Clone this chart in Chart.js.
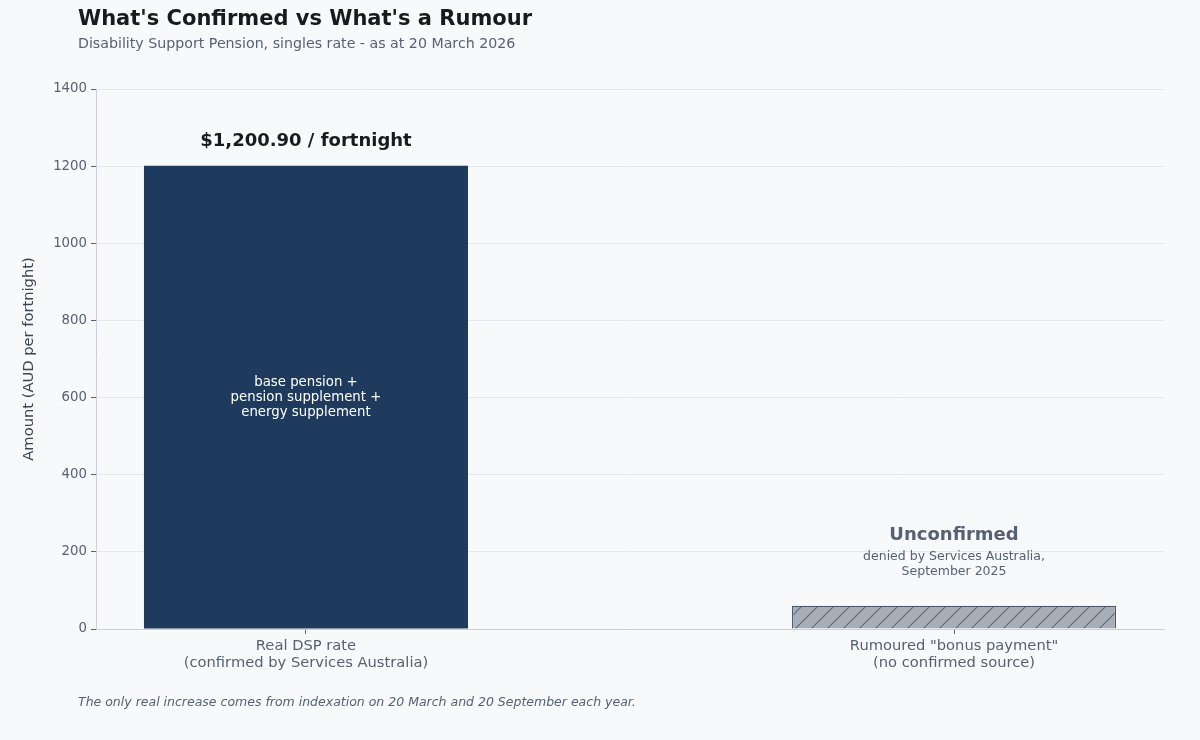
<!DOCTYPE html>
<html>
<head>
<meta charset="utf-8">
<script src="https://cdn.jsdelivr.net/npm/chart.js@4"></script>
<style>
  html, body { margin: 0; padding: 0; background: #f7f9fb; }
  #wrap { width: 1200px; height: 740px; position: relative; }
</style>
</head>
<body>
<div id="wrap"><canvas id="chart" width="1200" height="740"></canvas></div>
<script>
// Chart data
const categories = [
    ['Real DSP rate', '(confirmed by Services Australia)'],
    ['Rumoured "bonus payment"', '(no confirmed source)']
];
const amounts = [1200.9, 60];
const yTicks = [0, 200, 400, 600, 800, 1000, 1200, 1400];

const FONT = '"DejaVu Sans", sans-serif';
const MUTED = '#566274';

// diagonal hatch for the rumour bar
function makeHatch() {
    const c = document.createElement('canvas');
    c.width = 16;
    c.height = 16;
    const g = c.getContext('2d');
    g.fillStyle = '#a7aeb8';
    g.fillRect(0, 0, 16, 16);
    g.strokeStyle = '#5d6778';
    g.lineWidth = 1.1;
    g.beginPath();
    g.moveTo(0, 16); g.lineTo(16, 0);
    g.moveTo(-4, 4); g.lineTo(4, -4);
    g.moveTo(12, 20); g.lineTo(20, 12);
    g.stroke();
    return g.createPattern(c, 'repeat');
}

const textPlugin = {
    id: 'textPlugin',
    afterDatasetsDraw(chart) {
        const ctx = chart.ctx;
        const meta = chart.getDatasetMeta(0);
        const y = chart.scales.y;
        ctx.save();
        ctx.textAlign = 'center';
        ctx.textBaseline = 'middle';

        // bar 1 labels
        const b0 = meta.data[0];
        ctx.fillStyle = '#1a1a1a';
        ctx.font = 'bold 18px ' + FONT;
        ctx.fillText('$1,200.90 / fortnight', b0.x, b0.y - 24);
        ctx.fillStyle = '#ffffff';
        ctx.font = '13.3px ' + FONT;
        const mid = y.getPixelForValue(amounts[0] / 2);
        ctx.fillText('base pension +', b0.x, mid - 15);
        ctx.fillText('pension supplement +', b0.x, mid);
        ctx.fillText('energy supplement', b0.x, mid + 15);

        // bar 2 labels
        const b1 = meta.data[1];
        ctx.fillStyle = MUTED;
        ctx.font = 'bold 18px ' + FONT;
        ctx.fillText('Unconfirmed', b1.x, b1.y - 71);
        ctx.font = '12.5px ' + FONT;
        ctx.fillText('denied by Services Australia,', b1.x, b1.y - 49);
        ctx.fillText('September 2025', b1.x, b1.y - 34);
        ctx.restore();
    },
    afterDraw(chart) {
        const ctx = chart.ctx;
        ctx.save();
        ctx.textAlign = 'left';
        ctx.textBaseline = 'middle';
        ctx.fillStyle = '#1a1a1a';
        ctx.font = 'bold 21px ' + FONT;
        ctx.fillText("What's Confirmed vs What's a Rumour", 78, 20);
        ctx.fillStyle = MUTED;
        ctx.font = '14.2px ' + FONT;
        ctx.fillText('Disability Support Pension, singles rate - as at 20 March 2026', 78, 44);
        ctx.font = 'italic 12.5px ' + FONT;
        ctx.fillText('The only real increase comes from indexation on 20 March and 20 September each year.', 78, 703);
        ctx.restore();
    }
};

const bgPlugin = {
    id: 'bgPlugin',
    beforeDraw(chart) {
        const ctx = chart.ctx;
        ctx.save();
        ctx.fillStyle = '#f7f9fb';
        ctx.fillRect(0, 0, chart.width, chart.height);
        ctx.restore();
    }
};

const ctx = document.getElementById('chart').getContext('2d');
new Chart(ctx, {
    type: 'bar',
    data: {
        datasets: [{
            data: amounts.map((v, i) => ({ x: i, y: v })),
            backgroundColor: ['#1e3a5c', makeHatch()],
            borderColor: ['#1e3a5c', '#4f5a6b'],
            borderWidth: [0, 1.2],
            barPercentage: 0.5,
            categoryPercentage: 1
        }]
    },
    options: {
        responsive: false,
        animation: false,
        layout: { padding: { left: 20, top: 89, right: 36, bottom: 0 } },
        plugins: {
            legend: { display: false },
            tooltip: { enabled: false }
        },
        scales: {
            x: {
                type: 'linear',
                offset: false,
                min: -0.324,
                max: 1.324,
                afterBuildTicks(scale) { scale.ticks = categories.map((c, i) => ({ value: i })); },
                grid: {
                    offset: false,
                    drawOnChartArea: false,
                    tickLength: 5,
                    tickColor: '#566274'
                },
                border: { color: '#c8d0dc' },
                ticks: {
                    color: MUTED,
                    font: { family: FONT, size: 14.7 },
                    padding: 3,
                    callback: (v) => categories[v]
                },
                afterFit(scale) { scale.height = 111; }
            },
            y: {
                min: 0,
                max: 1400,
                afterBuildTicks(scale) { scale.ticks = yTicks.map(v => ({ value: v })); },
                grid: { color: '#e3e8ef', tickColor: '#566274', tickLength: 5 },
                border: { color: '#c8d0dc' },
                ticks: {
                    color: MUTED,
                    font: { family: FONT, size: 13.3 },
                    padding: 4,
                    callback: (v) => String(v)
                },
                title: {
                    display: true,
                    text: 'Amount (AUD per fortnight)',
                    color: '#3a4556',
                    font: { family: FONT, size: 14.7 },
                    padding: { top: 0, bottom: 4 }
                },
                afterFit(scale) { scale.width = 76; }
            }
        }
    },
    plugins: [bgPlugin, textPlugin]
});
</script>
</body>
</html>
